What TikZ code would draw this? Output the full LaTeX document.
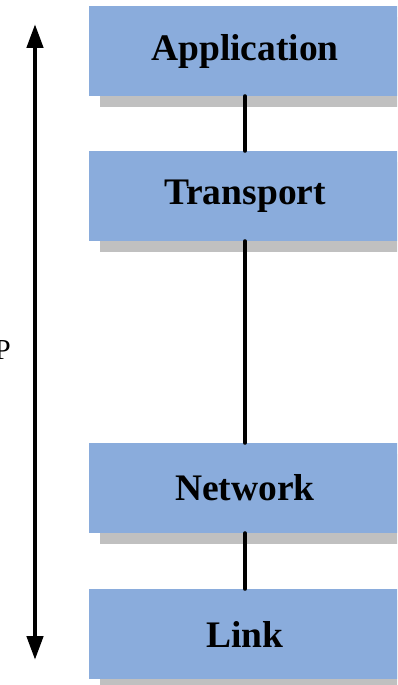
\documentclass[tikz,border=0pt]{standalone}
\usepackage{fontspec}
\setmainfont{Liberation Serif}
\usetikzlibrary{arrows.meta,positioning,shadows}
\definecolor{layerblue}{RGB}{138,172,220}
\definecolor{layershade}{RGB}{192,192,192}

\begin{document}
\begin{tikzpicture}[x=1pt, y=-1pt, line join=round,
  layer/.style={fill=layerblue, draw=none, minimum width=312pt, minimum height=90pt,
    font=\fontsize{37.5}{40}\selectfont\bfseries,
    drop shadow={shadow xshift=11pt, shadow yshift=-11pt, fill=layershade, opacity=1}},
  link/.style={line width=4pt, line cap=round}]
\useasboundingbox (0,0) rectangle (397,685);
\begin{scope}
\clip (0,0) rectangle (397,685);
\node[layer] (app)   at (245,51)  {Application};
\node[layer] (trans) at (245,196) {Transport};
\node[layer] (net)   at (245,488) {Network};
\node[layer] (lnk)   at (245,634) {Link};
\draw[link] (app.south)--(trans.north) (trans.south)--(net.north) (net.south)--(lnk.north);
\coordinate (top) at (35,24);
\coordinate (bot) at (35,660);
\draw[line width=4.5pt, {Triangle[length=24pt,width=16pt]}-{Triangle[length=24pt,width=16pt]}] (top)--(bot);
\node[anchor=east, inner sep=0pt, font=\fontsize{29}{30}\selectfont] (side) at (11,350) {P};
\end{scope}
\end{tikzpicture}
\end{document}
